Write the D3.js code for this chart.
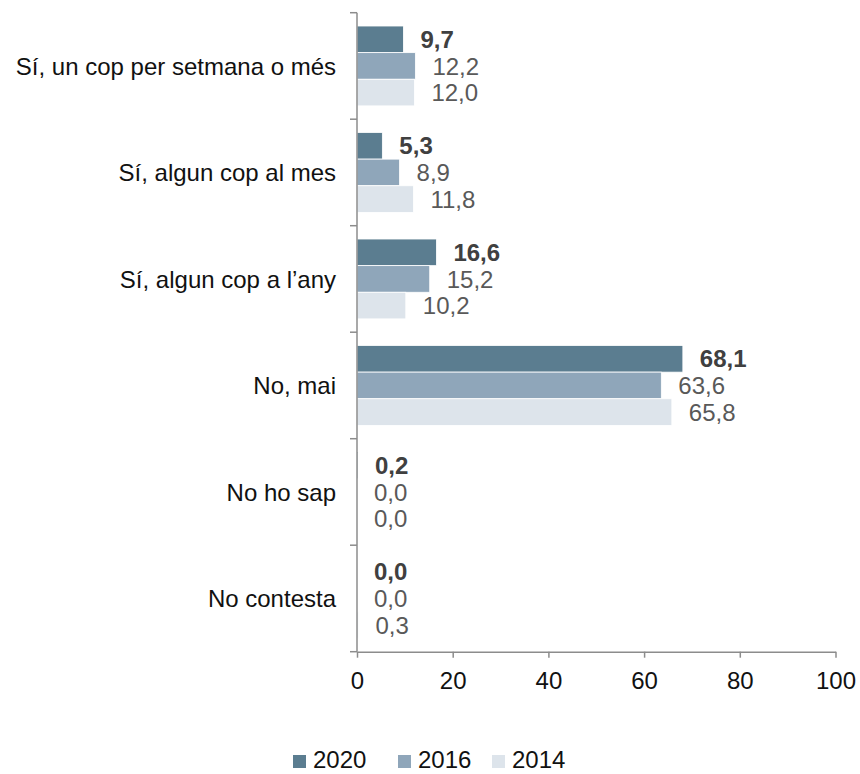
<!DOCTYPE html>
<html>
<head>
<meta charset="utf-8">
<script src="https://cdn.jsdelivr.net/npm/d3@7"></script>
<style>
  body { margin: 0; background: #fff; }
  svg { display: block; font-family: "Liberation Sans", Arial, sans-serif; }
</style>
</head>
<body>
<svg id="chart" width="860" height="774"></svg>
<script>
const categories = ["Sí, un cop per setmana o més", "Sí, algun cop al mes", "Sí, algun cop a l’any", "No, mai", "No ho sap", "No contesta"];
const seriesNames = ["2020", "2016", "2014"];
const values2020 = [9.7, 5.3, 16.6, 68.1, 0.2, 0.0];
const values2016 = [12.2, 8.9, 15.2, 63.6, 0.0, 0.0];
const values2014 = [12.0, 11.8, 10.2, 65.8, 0.0, 0.3];
const xTicks = [0, 20, 40, 60, 80, 100];
const colors = ["#5b7d90", "#8fa6ba", "#dde4eb"];

const seriesValues = [values2020, values2016, values2014];
const svg = d3.select("#chart");
const fs = 24;

const x = d3.scaleLinear().domain([0, 100]).range([357, 835.5]);
const y0 = d3.scaleBand().domain(categories).range([12.7, 651.7]).paddingInner(0.25).paddingOuter(0.125);
const y1 = d3.scaleBand().domain(seriesNames).range([0, y0.bandwidth()]);
const fmt = v => v.toFixed(1).replace(".", ",");

// bars
const groups = svg.append("g").selectAll("g").data(categories).join("g")
  .attr("transform", c => `translate(0,${y0(c)})`);
groups.each(function(c, i) {
  const g = d3.select(this);
  seriesNames.forEach((s, j) => {
    const v = seriesValues[j][i];
    g.append("rect")
      .attr("x", x(0))
      .attr("y", y1(s))
      .attr("width", Math.max(0, x(v) - x(0)))
      .attr("height", y1.bandwidth())
      .attr("fill", colors[j])
      .attr("stroke", "#ffffff")
      .attr("stroke-width", v > 0 ? 0.8 : 0);
    g.append("text")
      .attr("x", x(v) + 17)
      .attr("y", y1(s) + y1.bandwidth() / 2)
      .attr("dy", "0.36em")
      .attr("font-size", fs)
      .attr("font-weight", j === 0 ? "bold" : "normal")
      .attr("fill", j === 0 ? "#404040" : "#595959")
      .text(fmt(v));
  });
});

// y axis (category)
const step = y0.step();
const boundaries = d3.range(categories.length + 1).map(k => 12.7 + k * step);
const axisColor = "#8c8c8c";
svg.append("line")
  .attr("x1", x(0)).attr("x2", x(0))
  .attr("y1", boundaries[0]).attr("y2", boundaries[boundaries.length - 1])
  .attr("stroke", axisColor).attr("stroke-width", 1.5);
svg.append("g").selectAll("line").data(boundaries).join("line")
  .attr("x1", x(0) - 7).attr("x2", x(0))
  .attr("y1", d => d).attr("y2", d => d)
  .attr("stroke", axisColor).attr("stroke-width", 1.5);
svg.append("g").selectAll("text").data(categories).join("text")
  .attr("x", 336)
  .attr("y", c => y0(c) + y0.bandwidth() / 2)
  .attr("dy", "0.36em")
  .attr("text-anchor", "end")
  .attr("font-size", fs)
  .attr("fill", "#111")
  .text(c => c);

// x axis
const xAxis = svg.append("g")
  .attr("transform", `translate(0,${boundaries[boundaries.length - 1]})`)
  .call(d3.axisBottom(x).tickValues(xTicks).tickFormat(d3.format("d")).tickSize(6).tickSizeOuter(0).tickPadding(14));
xAxis.select(".domain").attr("stroke", axisColor).attr("stroke-width", 1.5);
xAxis.selectAll(".tick line").attr("stroke", axisColor).attr("stroke-width", 1.5);
xAxis.selectAll(".tick text").attr("font-size", fs).attr("fill", "#111").attr("font-family", "Liberation Sans, Arial, sans-serif");

// legend
const legendX = [293, 398, 492];
const legend = svg.append("g").selectAll("g").data(seriesNames).join("g")
  .attr("transform", (d, i) => `translate(${legendX[i]},755)`);
legend.append("rect").attr("width", 13).attr("height", 13).attr("fill", (d, i) => colors[i]);
legend.append("text").attr("x", 20).attr("y", 13).attr("font-size", fs).attr("fill", "#111").text(d => d);
</script>
</body>
</html>
